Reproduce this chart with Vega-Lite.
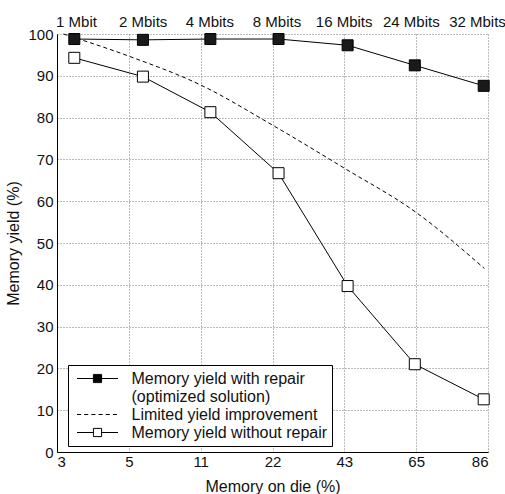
{
  "$schema": "https://vega.github.io/schema/vega-lite/v6.json",
  "width": 431,
  "height": 418,
  "autosize": "none",
  "padding": {"left": 57, "top": 34, "right": 17, "bottom": 42},
  "background": "white",
  "config": {
    "font": "Liberation Sans",
    "view": {"stroke": null},
    "axis": {
      "labelFont": "Liberation Sans",
      "labelFontSize": 15,
      "labelColor": "#111",
      "titleFont": "Liberation Sans",
      "titleFontSize": 16,
      "titleFontWeight": "normal",
      "titleColor": "#111",
      "domainColor": "black",
      "domainWidth": 1,
      "tickSize": 0,
      "gridColor": "#777",
      "gridDash": [1, 2],
      "gridWidth": 1,
      "gridOpacity": 1
    }
  },
  "data": {
    "values": [
      {"series": "Memory yield with repair", "pos": 0.241, "yield": 98.8},
      {"series": "Memory yield with repair", "pos": 1.196, "yield": 98.6},
      {"series": "Memory yield with repair", "pos": 2.135, "yield": 98.8},
      {"series": "Memory yield with repair", "pos": 3.084, "yield": 98.8},
      {"series": "Memory yield with repair", "pos": 4.046, "yield": 97.3},
      {"series": "Memory yield with repair", "pos": 4.981, "yield": 92.5},
      {"series": "Memory yield with repair", "pos": 5.94, "yield": 87.6},
      {"series": "Limited yield improvement", "pos": 0.09, "yield": 100},
      {"series": "Limited yield improvement", "pos": 1.0, "yield": 94.7},
      {"series": "Limited yield improvement", "pos": 2.0, "yield": 87.8},
      {"series": "Limited yield improvement", "pos": 3.0, "yield": 78.2},
      {"series": "Limited yield improvement", "pos": 4.0, "yield": 67.9},
      {"series": "Limited yield improvement", "pos": 5.0, "yield": 57.3},
      {"series": "Limited yield improvement", "pos": 5.95, "yield": 43.9},
      {"series": "Memory yield without repair", "pos": 0.241, "yield": 94.3},
      {"series": "Memory yield without repair", "pos": 1.196, "yield": 89.8},
      {"series": "Memory yield without repair", "pos": 2.135, "yield": 81.3},
      {"series": "Memory yield without repair", "pos": 3.084, "yield": 66.7},
      {"series": "Memory yield without repair", "pos": 4.046, "yield": 39.7},
      {"series": "Memory yield without repair", "pos": 4.981, "yield": 21.0},
      {"series": "Memory yield without repair", "pos": 5.94, "yield": 12.6}
    ]
  },
  "layer": [
    {
      "transform": [{"filter": "datum.series !== 'Limited yield improvement'"}],
      "mark": {"type": "line", "color": "black", "strokeWidth": 1},
      "encoding": {
        "x": {
          "field": "pos", "type": "quantitative",
          "scale": {"domain": [0, 6], "nice": false, "zero": false},
          "axis": {
            "orient": "bottom",
            "values": [0, 1, 2, 3, 4, 5, 6],
            "labelExpr": "['3','5','11','22','43','65','86'][round(datum.value)]",
            "labelPadding": 2,
            "title": "Memory on die (%)",
            "titlePadding": 9,
            "grid": true
          }
        },
        "y": {
          "field": "yield", "type": "quantitative",
          "scale": {"domain": [0, 100], "nice": false},
          "axis": {
            "values": [0, 10, 20, 30, 40, 50, 60, 70, 80, 90, 100],
            "labelPadding": 4,
            "title": "Memory yield (%)",
            "titlePadding": 6,
            "grid": true
          }
        },
        "detail": {"field": "series"}
      }
    },
    {
      "transform": [{"filter": "datum.series === 'Limited yield improvement'"}],
      "mark": {"type": "line", "color": "black", "strokeWidth": 1, "strokeDash": [4, 3], "interpolate": "monotone"},
      "encoding": {
        "x": {
          "field": "pos", "type": "quantitative",
          "axis": {
            "orient": "top",
            "values": [0.265, 1.193, 2.121, 3.056, 3.991, 4.926, 5.847],
            "labelExpr": "['1 Mbit','2 Mbits','4 Mbits','8 Mbits','16 Mbits','24 Mbits','32 Mbits'][round(datum.value)]",
            "labelPadding": 5,
            "grid": false,
            "domain": false,
            "ticks": false,
            "title": null
          }
        },
        "y": {"field": "yield", "type": "quantitative"}
      }
    },
    {
      "transform": [{"filter": "datum.series !== 'Limited yield improvement'"}],
      "mark": {"type": "point", "shape": "square", "size": 121, "filled": true, "stroke": "black", "strokeWidth": 1, "opacity": 1},
      "encoding": {
        "x": {"field": "pos", "type": "quantitative", "axis": null},
        "y": {"field": "yield", "type": "quantitative"},
        "fill": {
          "field": "series", "type": "nominal",
          "scale": {"domain": ["Memory yield with repair", "Memory yield without repair"], "range": ["#1a1a1a", "white"]},
          "legend": null
        }
      }
    },
    {
      "mark": {"type": "point", "opacity": 0, "size": 1681},
      "encoding": {
        "x": {"field": "pos", "type": "quantitative", "axis": null},
        "y": {"field": "yield", "type": "quantitative"},
        "shape": {
          "field": "series", "type": "nominal",
          "scale": {
            "domain": ["Memory yield with repair", "(optimized solution)", "Limited yield improvement", "Memory yield without repair"],
            "range": [
              "M-1,0H1M-0.2,-0.2H0.2V0.2H-0.2ZM-0.2,-0.146H0.2M-0.2,-0.098H0.2M-0.2,-0.049H0.2M-0.2,0.049H0.2M-0.2,0.098H0.2M-0.2,0.146H0.2",
              "M0,0Z",
              "M-1,0H-0.8M-0.65,0H-0.45M-0.3,0H-0.1M0.05,0H0.25M0.4,0H0.6M0.75,0H0.95",
              "M-1,0H-0.2M0.2,0H1M-0.2,-0.2H0.2V0.2H-0.2Z"
            ]
          },
          "legend": {
            "orient": "none",
            "legendX": 11,
            "legendY": 331,
            "title": null,
            "symbolSize": 1681,
            "symbolStrokeWidth": 1,
            "symbolStrokeColor": "black",
            "symbolFillColor": "white",
            "symbolOpacity": 1,
            "symbolOffset": 4,
            "clipHeight": 18,
            "labelFont": "Liberation Sans",
            "labelFontSize": 16,
            "labelColor": "#111",
            "labelLimit": 0,
            "labelOffset": 13,
            "padding": 4.5,
            "strokeColor": "black",
            "fillColor": "white",
            "cornerRadius": 0,
            "rowPadding": 0
          }
        }
      }
    }
  ]
}
